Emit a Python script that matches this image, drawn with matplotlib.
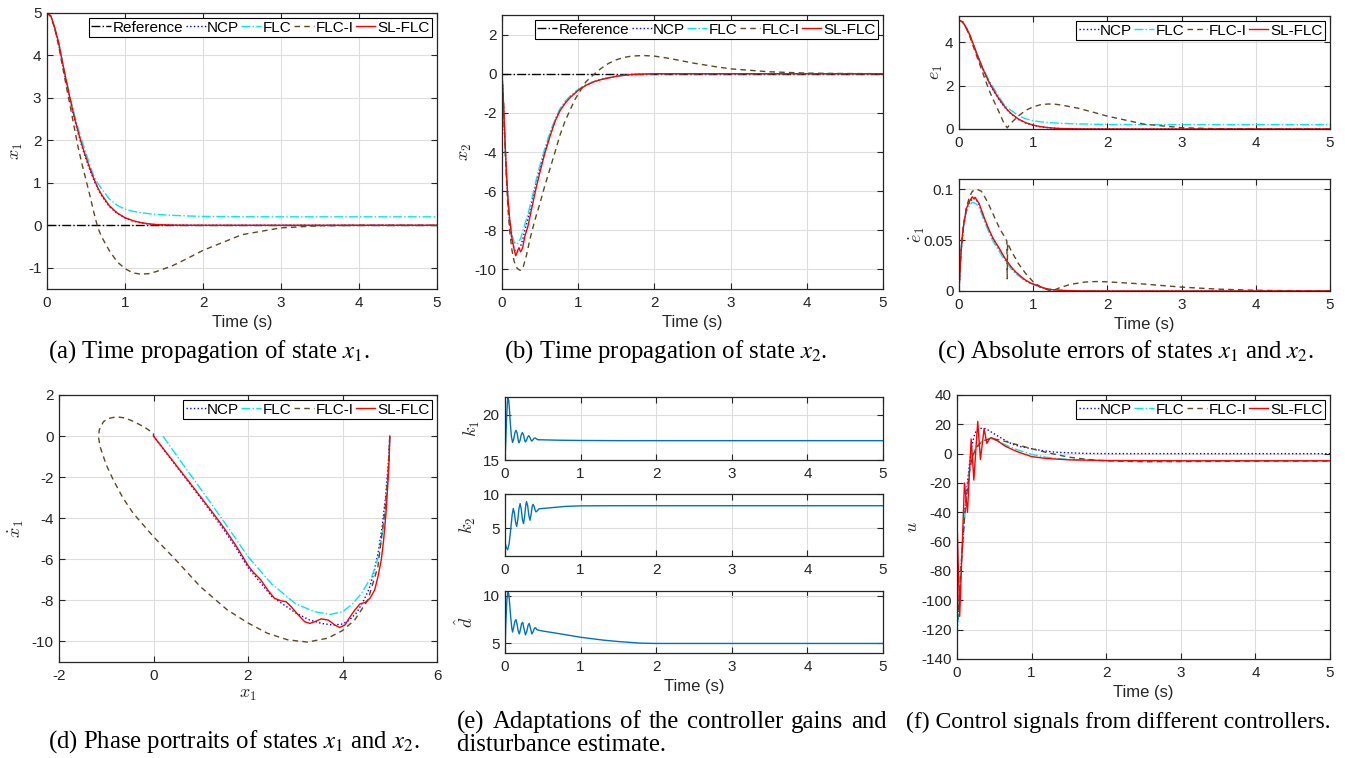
import numpy as np
import matplotlib
matplotlib.use('Agg')
import matplotlib.pyplot as plt
from matplotlib.ticker import FuncFormatter

# ---------------- data ----------------
t_x1 = [0, 0.05, 0.1, 0.15, 0.2, 0.25, 0.3, 0.35, 0.4, 0.45, 0.5, 0.55, 0.6, 0.65, 0.7,
        0.8, 0.9, 1.0, 1.1, 1.2, 1.3, 1.4, 1.6, 1.8, 2.0, 2.5, 3.0, 3.5, 4.0, 5.0]
x1_ncp = [5.0, 4.92, 4.63, 4.26, 3.8, 3.35, 2.92, 2.52, 2.16, 1.84, 1.56, 1.3, 1.07, 0.87, 0.7,
          0.44, 0.28, 0.17, 0.1, 0.06, 0.03, 0.015, 0.004, 0.001, 0, 0, 0, 0, 0, 0]
x1_flc = [5.0, 4.92, 4.64, 4.28, 3.83, 3.4, 2.99, 2.62, 2.28, 1.98, 1.7, 1.42, 1.16, 0.99, 0.86,
          0.62, 0.47, 0.38, 0.33, 0.3, 0.275, 0.258, 0.235, 0.22, 0.21, 0.202, 0.2, 0.2, 0.2, 0.2]
x1_flci = [5.0, 4.92, 4.62, 4.22, 3.73, 3.25, 2.78, 2.3, 1.83, 1.43, 1.07, 0.7, 0.31, -0.05, -0.27,
           -0.6, -0.86, -1.02, -1.12, -1.15, -1.14, -1.09, -0.96, -0.78, -0.59, -0.22, -0.06, -0.01, 0, 0]
x1_sl = [5.0, 4.93, 4.65, 4.3, 3.83, 3.38, 2.95, 2.55, 2.2, 1.88, 1.6, 1.34, 1.1, 0.89, 0.72,
         0.46, 0.29, 0.18, 0.11, 0.065, 0.035, 0.018, 0.005, 0.001, 0, 0, 0, 0, 0, 0]
t_ref = [0, 5]
ref = [0, 0]

t_x2 = [0, 0.02, 0.04, 0.06, 0.08, 0.1, 0.13, 0.16, 0.18, 0.2, 0.22, 0.245, 0.27, 0.3, 0.34, 0.4,
        0.45, 0.5, 0.56, 0.63, 0.7, 0.76, 0.83, 0.9, 1.0, 1.1, 1.2, 1.3, 1.5, 1.7, 2.0, 5.0]
x2_sl = [0, -1.5, -3.5, -5.2, -6.5, -7.4, -8.4, -9.0, -9.3, -9.1, -8.9, -9.1, -8.9, -8.3, -7.8, -6.7,
         -5.8, -5.0, -4.1, -3.2, -2.4, -1.9, -1.5, -1.2, -0.85, -0.6, -0.42, -0.3, -0.13, -0.04, 0, 0]
x2_ncp = [0, -1.6, -3.7, -5.4, -6.7, -7.6, -8.5, -8.95, -9.1, -9.1, -9.0, -8.8, -8.5, -8.0, -7.4, -6.4,
          -5.55, -4.8, -3.95, -3.1, -2.35, -1.85, -1.45, -1.15, -0.82, -0.58, -0.41, -0.29, -0.12, -0.04, 0, 0]
x2_flc = [0, -1.6, -3.6, -5.3, -6.5, -7.4, -8.2, -8.6, -8.7, -8.7, -8.6, -8.4, -8.1, -7.7, -7.2, -6.25,
          -5.4, -4.65, -3.85, -3.0, -2.3, -1.8, -1.4, -1.12, -0.8, -0.57, -0.41, -0.29, -0.12, -0.04, 0, 0]
t_x2i = [0, 0.02, 0.04, 0.06, 0.08, 0.1, 0.13, 0.16, 0.2, 0.24, 0.28, 0.32, 0.37, 0.43, 0.5, 0.56,
         0.63, 0.7, 0.76, 0.83, 0.9, 0.96, 1.03, 1.1, 1.2, 1.3, 1.4, 1.5, 1.6, 1.7, 1.85, 2.0, 2.2,
         2.5, 2.8, 3.0, 3.5, 4.0, 4.5, 5.0]
x2_flci = [0, -1.6, -3.7, -5.5, -7.0, -8.0, -9.0, -9.6, -9.95, -10.05, -9.85, -9.3, -8.4, -7.5, -6.6, -5.75,
           -4.85, -3.95, -3.15, -2.4, -1.8, -1.3, -0.85, -0.42, -0.05, 0.27, 0.53, 0.71, 0.83, 0.9, 0.93, 0.9, 0.78,
           0.55, 0.36, 0.25, 0.1, 0.03, 0.01, 0.0]

t_de = [0, 0.02, 0.04, 0.06, 0.1, 0.14, 0.18, 0.2, 0.22, 0.24, 0.27, 0.31, 0.35, 0.4, 0.45, 0.49,
        0.55, 0.62, 0.7, 0.76, 0.83, 0.89, 0.96, 1.03, 1.1, 1.16, 1.23, 1.3, 1.4, 1.6, 2.0, 5.0]
de_sl = [0, 0.03, 0.05, 0.064, 0.081, 0.088, 0.0925, 0.0905, 0.092, 0.089, 0.086, 0.078, 0.07, 0.061,
         0.053, 0.048, 0.041, 0.032, 0.024, 0.019, 0.0145, 0.011, 0.008, 0.006, 0.004, 0.0026, 0.0015,
         0.001, 0.0005, 0.0001, 0, 0]
de_ncp = [0, 0.03, 0.05, 0.063, 0.08, 0.087, 0.0905, 0.091, 0.0905, 0.089, 0.085, 0.077, 0.069, 0.06,
          0.052, 0.047, 0.04, 0.031, 0.023, 0.018, 0.014, 0.0105, 0.0078, 0.0058, 0.0038, 0.0025, 0.0015,
          0.001, 0.0005, 0.0001, 0, 0]
de_flc = [0, 0.03, 0.05, 0.062, 0.078, 0.084, 0.087, 0.0868, 0.086, 0.085, 0.082, 0.075, 0.067, 0.058,
          0.05, 0.045, 0.038, 0.03, 0.022, 0.0175, 0.0135, 0.0102, 0.0076, 0.0056, 0.0037, 0.0025, 0.0015,
          0.001, 0.0005, 0.0001, 0, 0]
t_dei = [0, 0.02, 0.04, 0.06, 0.1, 0.14, 0.18, 0.24, 0.3, 0.35, 0.4, 0.45, 0.5, 0.55, 0.6, 0.645,
         0.65, 0.655, 0.7, 0.8, 0.9, 1.0, 1.1, 1.2, 1.25, 1.35, 1.5, 1.7, 1.85, 2.0, 2.5, 3.0, 3.5,
         4.0, 4.5, 5.0]
de_flci = [0, 0.03, 0.05, 0.065, 0.082, 0.092, 0.098, 0.1, 0.098, 0.092, 0.085, 0.077, 0.069, 0.061,
           0.055, 0.049, 0.012, 0.047, 0.04, 0.027, 0.017, 0.009, 0.004, 0.001, 0.0, 0.003, 0.0065,
           0.0088, 0.0093, 0.009, 0.0068, 0.0038, 0.0018, 0.0007, 0.0002, 0]

# phase portraits (x1, x1dot)
ph_ncp_x = [0, 0.25, 0.5, 0.75, 1.0, 1.25, 1.5, 1.75, 2.0, 2.5, 3.0, 3.3, 3.55, 3.8, 4.0, 4.15,
            4.3, 4.45, 4.57, 4.67, 4.76, 4.84, 4.91, 4.96, 4.99, 5.0]
ph_ncp_y = [0, -0.76, -1.52, -2.27, -3.02, -3.8, -4.6, -5.45, -6.4, -7.8, -8.6, -8.95, -9.12, -9.2,
            -9.15, -8.95, -8.6, -8.0, -7.4, -6.6, -5.6, -4.4, -3.0, -1.6, -0.6, 0]
ph_flc_x = [0.2, 0.5, 0.75, 1.0, 1.25, 1.5, 1.75, 2.0, 2.5, 3.0, 3.4, 3.75, 4.0, 4.2, 4.4, 4.52,
            4.62, 4.7, 4.76, 4.84, 4.9, 4.95, 4.99, 5.0]
ph_flc_y = [0, -0.98, -1.78, -2.58, -3.38, -4.2, -5.03, -5.87, -7.2, -8.15, -8.55, -8.68, -8.55,
            -8.2, -7.66, -7.2, -6.85, -6.3, -5.88, -4.8, -3.77, -2.4, -1.0, 0]
ph_flci_x = [5.0, 4.97, 4.93, 4.89, 4.75, 4.54, 4.26, 4.0, 3.69, 3.26, 2.84, 2.41, 2.0, 1.56, 0.99,
             0.5, 0.0, -0.43, -0.65, -0.85, -1.0, -1.13, -1.16, -1.15, -1.06, -0.95, -0.78, -0.6,
             -0.43, -0.2, 0.0, 0.0]
ph_flci_y = [0, -1.6, -2.8, -3.76, -6.35, -7.97, -8.95, -9.47, -9.84, -10.03, -9.92, -9.6, -9.1,
             -8.46, -7.33, -6.1, -4.9, -3.76, -3.0, -2.14, -1.4, -0.52, -0.1, 0.29, 0.7, 0.86, 0.94,
             0.88, 0.72, 0.45, 0.13, 0]
ph_sl_x = [0, 0.25, 0.5, 0.75, 1.0, 1.25, 1.5, 1.75, 2.0, 2.1, 2.27, 2.42, 2.56, 2.7, 2.81, 2.91,
           3.06, 3.2, 3.31, 3.41, 3.55, 3.7, 3.84, 3.94, 4.05, 4.16, 4.26, 4.37, 4.48, 4.58, 4.68,
           4.75, 4.82, 4.87, 4.92, 4.96, 4.99, 5.0]
ph_sl_y = [0, -0.74, -1.48, -2.22, -2.97, -3.72, -4.5, -5.35, -6.3, -6.6, -7.0, -7.5, -7.9, -8.02,
           -8.07, -8.3, -8.7, -9.04, -9.12, -9.04, -8.9, -8.96, -9.2, -9.32, -9.2, -8.8, -8.47,
           -8.17, -8.1, -7.9, -7.5, -6.85, -6.04, -5.07, -3.77, -2.3, -1.0, 0]

# adaptive gains
t_k1 = [0, 0.01, 0.02, 0.03, 0.04, 0.05, 0.06, 0.07, 0.085, 0.1, 0.115, 0.13, 0.145, 0.16, 0.175,
        0.185, 0.2, 0.215, 0.23, 0.245, 0.26, 0.27, 0.285, 0.3, 0.315, 0.33, 0.345, 0.355, 0.37,
        0.385, 0.4, 0.415, 0.43, 0.44, 0.5, 0.7, 1.0, 1.5, 5.0]
k1 = [15.0, 17.0, 19.5, 21.2, 21.9, 21.6, 20.5, 19.1, 17.6, 16.95, 17.3, 18.0, 18.3, 18.0, 17.2,
      16.9, 17.2, 17.8, 18.05, 17.8, 17.2, 17.0, 17.2, 17.55, 17.7, 17.5, 17.2, 17.1, 17.25, 17.42,
      17.45, 17.35, 17.26, 17.25, 17.24, 17.2, 17.17, 17.15, 17.15]
t_k2 = [0, 0.015, 0.035, 0.055, 0.075, 0.095, 0.11, 0.125, 0.14, 0.155, 0.17, 0.185, 0.2, 0.215,
        0.23, 0.245, 0.26, 0.275, 0.285, 0.3, 0.315, 0.33, 0.345, 0.36, 0.37, 0.385, 0.4, 0.41,
        0.43, 0.45, 0.6, 0.8, 1.0, 1.5, 5.0]
k2 = [3.0, 2.3, 1.9, 2.8, 4.8, 7.0, 7.9, 7.2, 5.9, 5.3, 6.3, 7.9, 8.6, 7.8, 6.3, 5.7, 6.8, 8.4, 8.9,
      8.3, 6.9, 6.2, 7.0, 8.2, 8.5, 8.2, 7.6, 7.4, 7.6, 7.85, 8.0, 8.2, 8.28, 8.3, 8.3]
t_dh = [0, 0.01, 0.025, 0.04, 0.05, 0.06, 0.075, 0.09, 0.1, 0.115, 0.13, 0.145, 0.16, 0.175, 0.19,
        0.205, 0.22, 0.235, 0.25, 0.27, 0.29, 0.305, 0.32, 0.34, 0.355, 0.37, 0.39, 0.405, 0.42,
        0.45, 0.5, 0.7, 1.0, 1.3, 1.5, 1.8, 2.0, 5.0]
dh = [4.0, 7.0, 9.6, 10.4, 10.2, 9.3, 7.8, 6.6, 6.2, 6.7, 7.3, 7.5, 7.0, 6.3, 6.0, 6.5, 7.1, 7.2,
      6.6, 5.9, 6.3, 6.9, 7.1, 6.5, 6.0, 6.2, 6.6, 6.65, 6.45, 6.38, 6.3, 6.05, 5.65, 5.35, 5.2,
      5.03, 5.0, 5.0]

# control signals
t_u_ncp = [0, 0.03, 0.063, 0.1, 0.13, 0.165, 0.197, 0.23, 0.26, 0.3, 0.35, 0.38, 0.42, 0.5, 0.56,
           0.65, 0.74, 0.85, 1.0, 1.15, 1.32, 1.5, 1.72, 2.0, 5.0]
u_ncp = [-118, -100, -70, -42, -25, -8, 5, 12, 16, 17.2, 17.3, 17, 16, 13.5, 11.6, 9, 6.5, 4.8,
         3.4, 2.0, 1.0, 0.6, 0.2, 0.05, 0.0]
t_u_flc = [0, 0.03, 0.063, 0.1, 0.13, 0.165, 0.2, 0.25, 0.3, 0.35, 0.4, 0.45, 0.5, 0.6, 0.7, 0.8,
           1.0, 1.2, 1.5, 2.0, 3.0, 5.0]
u_flc = [-125, -100, -72, -45, -28, -12, -2, 4, 7, 9, 10, 10.3, 9.6, 7.2, 4.8, 2.8, -0.5, -2.5,
         -4.0, -4.7, -4.9, -4.9]
t_u_flci = [0, 0.03, 0.063, 0.1, 0.13, 0.165, 0.2, 0.25, 0.3, 0.35, 0.4, 0.45, 0.5, 0.6, 0.7, 0.8,
            1.0, 1.2, 1.5, 1.8, 2.0, 2.5, 3.0, 4.0, 5.0]
u_flci = [-120, -98, -70, -44, -28, -13, -3, 3, 6.5, 8.5, 9.6, 10.1, 10.0, 9.0, 7.6, 6.2, 3.4, 0.8,
          -2.4, -4.2, -4.9, -5.5, -5.4, -5.1, -5.0]
t_u_sl = [0, 0.036, 0.1, 0.14, 0.19, 0.226, 0.278, 0.314, 0.363, 0.4, 0.44, 0.46, 0.55, 0.65, 0.8,
          1.0, 1.2, 1.5, 2.0, 3.0, 5.0]
u_sl = [-45, -111, -20, -40, 10, -18, 22, -4, 17, 7, 10.5, 11, 8.5, 5, 1.5, -2, -3.3, -4.2, -4.7,
        -4.85, -4.85]

labels = ['Reference', 'NCP', 'FLC', 'FLC-I', 'SL-FLC']

# ---------------- styling ----------------
plt.rcParams['font.family'] = ['Liberation Sans', 'DejaVu Sans']
plt.rcParams['axes.unicode_minus'] = False
plt.rcParams['mathtext.fontset'] = 'cm'
plt.rcParams['legend.fancybox'] = False

C_REF = 'black'
C_NCP = '#0000ff'
C_FLC = '#00e8f0'
C_FLCI = '#5e4a22'
C_SL = '#ff0000'
C_K = '#0072bd'
LW = 1.0
TXT = '#262626'
TICK_FS = 11
LAB_FS = 12

W, H = 1345, 758
fig = plt.figure(figsize=(W / 100, H / 100), dpi=100)


def ax_at(l, t, r, b):
    return fig.add_axes([l / W, 1 - b / H, (r - l) / W, (b - t) / H])


fmt = FuncFormatter(lambda v, p: '%g' % v)


def style(ax, xlim, ylim, xticks, yticks):
    ax.set_xlim(*xlim)
    ax.set_ylim(*ylim)
    ax.set_xticks(xticks)
    ax.set_yticks(yticks)
    ax.xaxis.set_major_formatter(fmt)
    ax.yaxis.set_major_formatter(fmt)
    ax.grid(True, color='#dedede', lw=0.8)
    ax.set_axisbelow(True)
    ax.tick_params(direction='in', top=True, right=True, length=4, width=0.8,
                   labelsize=TICK_FS, colors=TXT)
    ax.tick_params(axis='x', pad=5)
    ax.tick_params(axis='y', pad=4)
    for s in ax.spines.values():
        s.set_color(TXT)
        s.set_linewidth(0.9)


def legend(ax, n):
    lg = ax.legend(loc='upper right', ncol=n, fontsize=11, handlelength=1.3,
                   handletextpad=0.1, columnspacing=0.15, borderpad=0.15,
                   borderaxespad=0.35, framealpha=1)
    lg.get_frame().set_edgecolor('black')
    lg.get_frame().set_linewidth(0.8)
    return lg


def plot_set(ax, t1, y1, t2, y2, t3, y3, t4, y4, ref_on=False):
    if ref_on:
        ax.plot(t_ref, ref, color=C_REF, ls='-.', lw=LW, label=labels[0])
    ax.plot(t1, y1, color=C_NCP, ls=':', lw=LW, label=labels[1])
    ax.plot(t2, y2, color=C_FLC, ls='-.', lw=LW, label=labels[2])
    ax.plot(t3, y3, color=C_FLCI, ls=(0, (4, 3)), lw=LW, label=labels[3])
    ax.plot(t4, y4, color=C_SL, ls='-', lw=LW, label=labels[4])


def xlab(ax):
    ax.set_xlabel('Time (s)', fontsize=LAB_FS, color=TXT, labelpad=4)


tx = [0, 1, 2, 3, 4, 5]

# (a)
ax = ax_at(47, 13, 437, 289)
plot_set(ax, t_x1, x1_ncp, t_x1, x1_flc, t_x1, x1_flci, t_x1, x1_sl, ref_on=True)
style(ax, (0, 5), (-1.5, 5), tx, [-1, 0, 1, 2, 3, 4, 5])
xlab(ax)
ax.set_ylabel(r'$x_1$', fontsize=13, color=TXT, labelpad=2)
legend(ax, 5)

# (b)
ax = ax_at(502, 15, 883, 289)
plot_set(ax, t_x2, x2_ncp, t_x2, x2_flc, t_x2i, x2_flci, t_x2, x2_sl, ref_on=True)
style(ax, (0, 5), (-11, 3), tx, [-10, -8, -6, -4, -2, 0, 2])
xlab(ax)
ax.set_ylabel(r'$x_2$', fontsize=13, color=TXT, labelpad=0)
legend(ax, 5)

# (c) top
ax = ax_at(959, 16, 1330, 129)
plot_set(ax, t_x1, np.abs(x1_ncp), t_x1, np.abs(x1_flc), t_x1, np.abs(x1_flci), t_x1, np.abs(x1_sl))
style(ax, (0, 5), (0, 5.2), tx, [0, 2, 4])
ax.set_ylabel(r'$e_1$', fontsize=13, color=TXT, labelpad=0)
legend(ax, 4)

# (c) bottom
ax = ax_at(959, 179, 1330, 291)
plot_set(ax, t_de, de_ncp, t_de, de_flc, t_dei, de_flci, t_de, de_sl)
style(ax, (0, 5), (0, 0.11), tx, [0, 0.05, 0.1])
xlab(ax)
ax.set_ylabel(r'$\dot{e}_1$', fontsize=13, color=TXT, labelpad=-2)

# (d)
ax = ax_at(59, 395, 437, 662)
ax.plot(ph_ncp_x, ph_ncp_y, color=C_NCP, ls=':', lw=LW, label=labels[1])
ax.plot(ph_flc_x, ph_flc_y, color=C_FLC, ls='-.', lw=LW, label=labels[2])
ax.plot(ph_flci_x, ph_flci_y, color=C_FLCI, ls=(0, (4, 3)), lw=LW, label=labels[3])
ax.plot(ph_sl_x, ph_sl_y, color=C_SL, ls='-', lw=LW, label=labels[4])
style(ax, (-2, 6), (-11, 2), [-2, 0, 2, 4, 6], [-10, -8, -6, -4, -2, 0, 2])
ax.set_xlabel(r'$x_1$', fontsize=13, color=TXT, labelpad=2)
ax.set_ylabel(r'$\dot{x}_1$', fontsize=13, color=TXT, labelpad=4)
legend(ax, 4)

# (e)
ax = ax_at(505, 397, 883, 460)
ax.plot(t_k1, k1, color=C_K, lw=LW)
style(ax, (0, 5), (15, 22), tx, [15, 20])
ax.set_ylabel(r'$k_1$', fontsize=13, color=TXT, labelpad=0)
ax = ax_at(505, 494, 883, 556)
ax.plot(t_k2, k2, color=C_K, lw=LW)
style(ax, (0, 5), (1, 10), tx, [5, 10])
ax.set_ylabel(r'$k_2$', fontsize=13, color=TXT, labelpad=3)
ax = ax_at(505, 591, 883, 653)
ax.plot(t_dh, dh, color=C_K, lw=LW)
style(ax, (0, 5), (4, 10.5), tx, [5, 10])
ax.set_ylabel(r'$\hat{d}$', fontsize=13, color=TXT, labelpad=4)
xlab(ax)

# (f)
ax = ax_at(957, 395, 1330, 659)
plot_set(ax, t_u_ncp, u_ncp, t_u_flc, u_flc, t_u_flci, u_flci, t_u_sl, u_sl)
style(ax, (0, 5), (-140, 40), tx, list(range(-140, 41, 20)))
xlab(ax)
ax.set_ylabel(r'$u$', fontsize=13, color=TXT, labelpad=0)
legend(ax, 4)

# ---------------- captions ----------------
CAP = dict(fontsize=17.8, family='Liberation Serif', math_fontfamily='stix', color='black',
           va='center', ha='left')
fig.text(48 / W, 1 - 352 / H, r'(a) Time propagation of state $x_1$.', **CAP)
fig.text(504 / W, 1 - 352 / H, r'(b) Time propagation of state $x_2$.', **CAP)
fig.text(937 / W, 1 - 352 / H, r'(c) Absolute errors of states $x_1$ and $x_2$.', **CAP)
fig.text(48 / W, 1 - 742 / H, r'(d) Phase portraits of states $x_1$ and $x_2$.', **CAP)
CAP_F = dict(CAP)
CAP_F['fontsize'] = 17.0
fig.text(906 / W, 1 - 722 / H, r'(f) Control signals from different controllers.', **CAP_F)

# justified first line of caption (e)
words = '(e) Adaptations of the controller gains and'.split()
renderer = fig.canvas.get_renderer()
objs = [fig.text(0, 1 - 722 / H, w, **CAP) for w in words]
widths = [o.get_window_extent(renderer).width for o in objs]
x_left, x_right = 457, 887
gap = (x_right - x_left - sum(widths)) / (len(words) - 1)
x = x_left
for o, wd in zip(objs, widths):
    o.set_x(x / W)
    x += wd + gap
fig.text(457 / W, 1 - 745 / H, 'disturbance estimate.', **CAP)

fig.savefig('out.png', dpi=100, facecolor='white')
